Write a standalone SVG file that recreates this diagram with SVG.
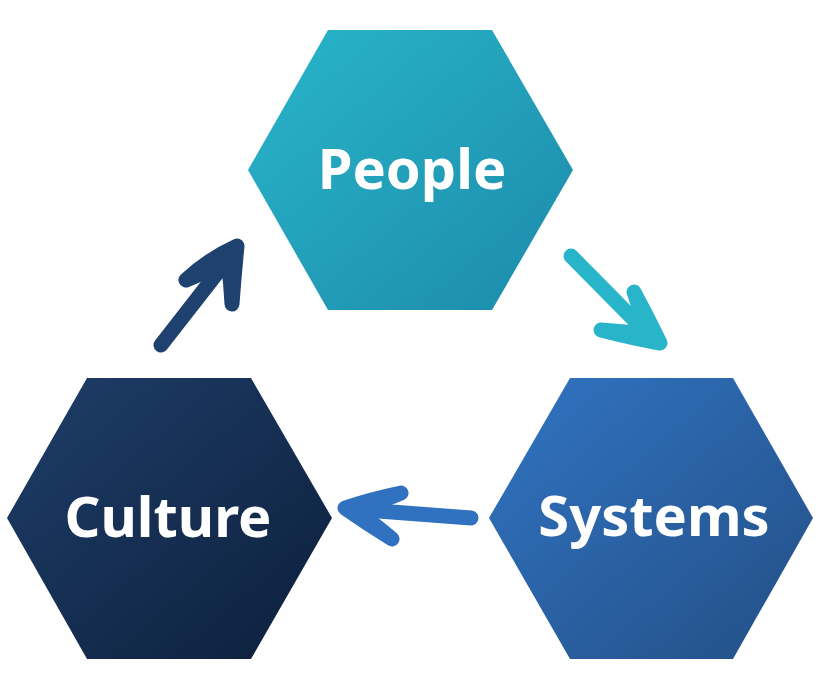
<svg xmlns="http://www.w3.org/2000/svg" width="823" height="690" viewBox="0 0 823 690">
<defs>
<linearGradient id="gPeople" x1="0" y1="0" x2="1" y2="1">
<stop offset="0" stop-color="#28b6c9"/>
<stop offset="1" stop-color="#1d8aab"/>
</linearGradient>
<linearGradient id="gCulture" x1="0" y1="0" x2="1" y2="1">
<stop offset="0" stop-color="#1e3e69"/>
<stop offset="1" stop-color="#0d1f3b"/>
</linearGradient>
<linearGradient id="gSystems" x1="0" y1="0" x2="1" y2="1">
<stop offset="0" stop-color="#3174c3"/>
<stop offset="1" stop-color="#234f85"/>
</linearGradient>
</defs>
<style>
.lbl{font-family:"Noto Sans","Open Sans","Liberation Sans",sans-serif;font-weight:700;font-size:56px;fill:#ffffff;text-anchor:middle}
.arr{stroke-width:15;stroke-linecap:round;stroke-linejoin:round}
</style>
<rect width="823" height="690" fill="#ffffff"/>
<g id="people">
<polygon points="248,170 328,30 492,30 573,170 492,310 328,310" fill="url(#gPeople)"/>
<text class="lbl" x="412" y="189">People</text>
</g>
<g id="culture">
<polygon points="7,518 87,378 251,378 332,518 251,659 87,659" fill="url(#gCulture)"/>
<text class="lbl" x="168" y="537">Culture</text>
</g>
<g id="connectors">
<path class="arr" stroke="#1f4170" fill="none" d="M161,345 L232,254"/>
<path class="arr" stroke="#1f4170" fill="#1f4170" d="M186,280 Q210,258 237,246 Q234,276 232,304 Q231,282 228,262 Z"/>
<path class="arr" stroke="#29b5c9" fill="none" d="M571,256 L652,338"/>
<path class="arr" stroke="#29b5c9" fill="#29b5c9" d="M634,292 Q648,318 660,343 Q632,338 601,330 Q626,332 648,334 Z"/>
<path class="arr" stroke="#3071c0" fill="none" d="M471,518 L352,509"/>
<path class="arr" stroke="#3071c0" fill="#3071c0" d="M401,493 Q372,499 345,508 Q368,524 392,539 Q372,522 356,511 Z"/>
</g>
<g id="systems">
<polygon points="489,518 570,378 733,378 813,518 733,659 570,659" fill="url(#gSystems)"/>
<text class="lbl" x="654" y="536">Systems</text>
</g>
</svg>
